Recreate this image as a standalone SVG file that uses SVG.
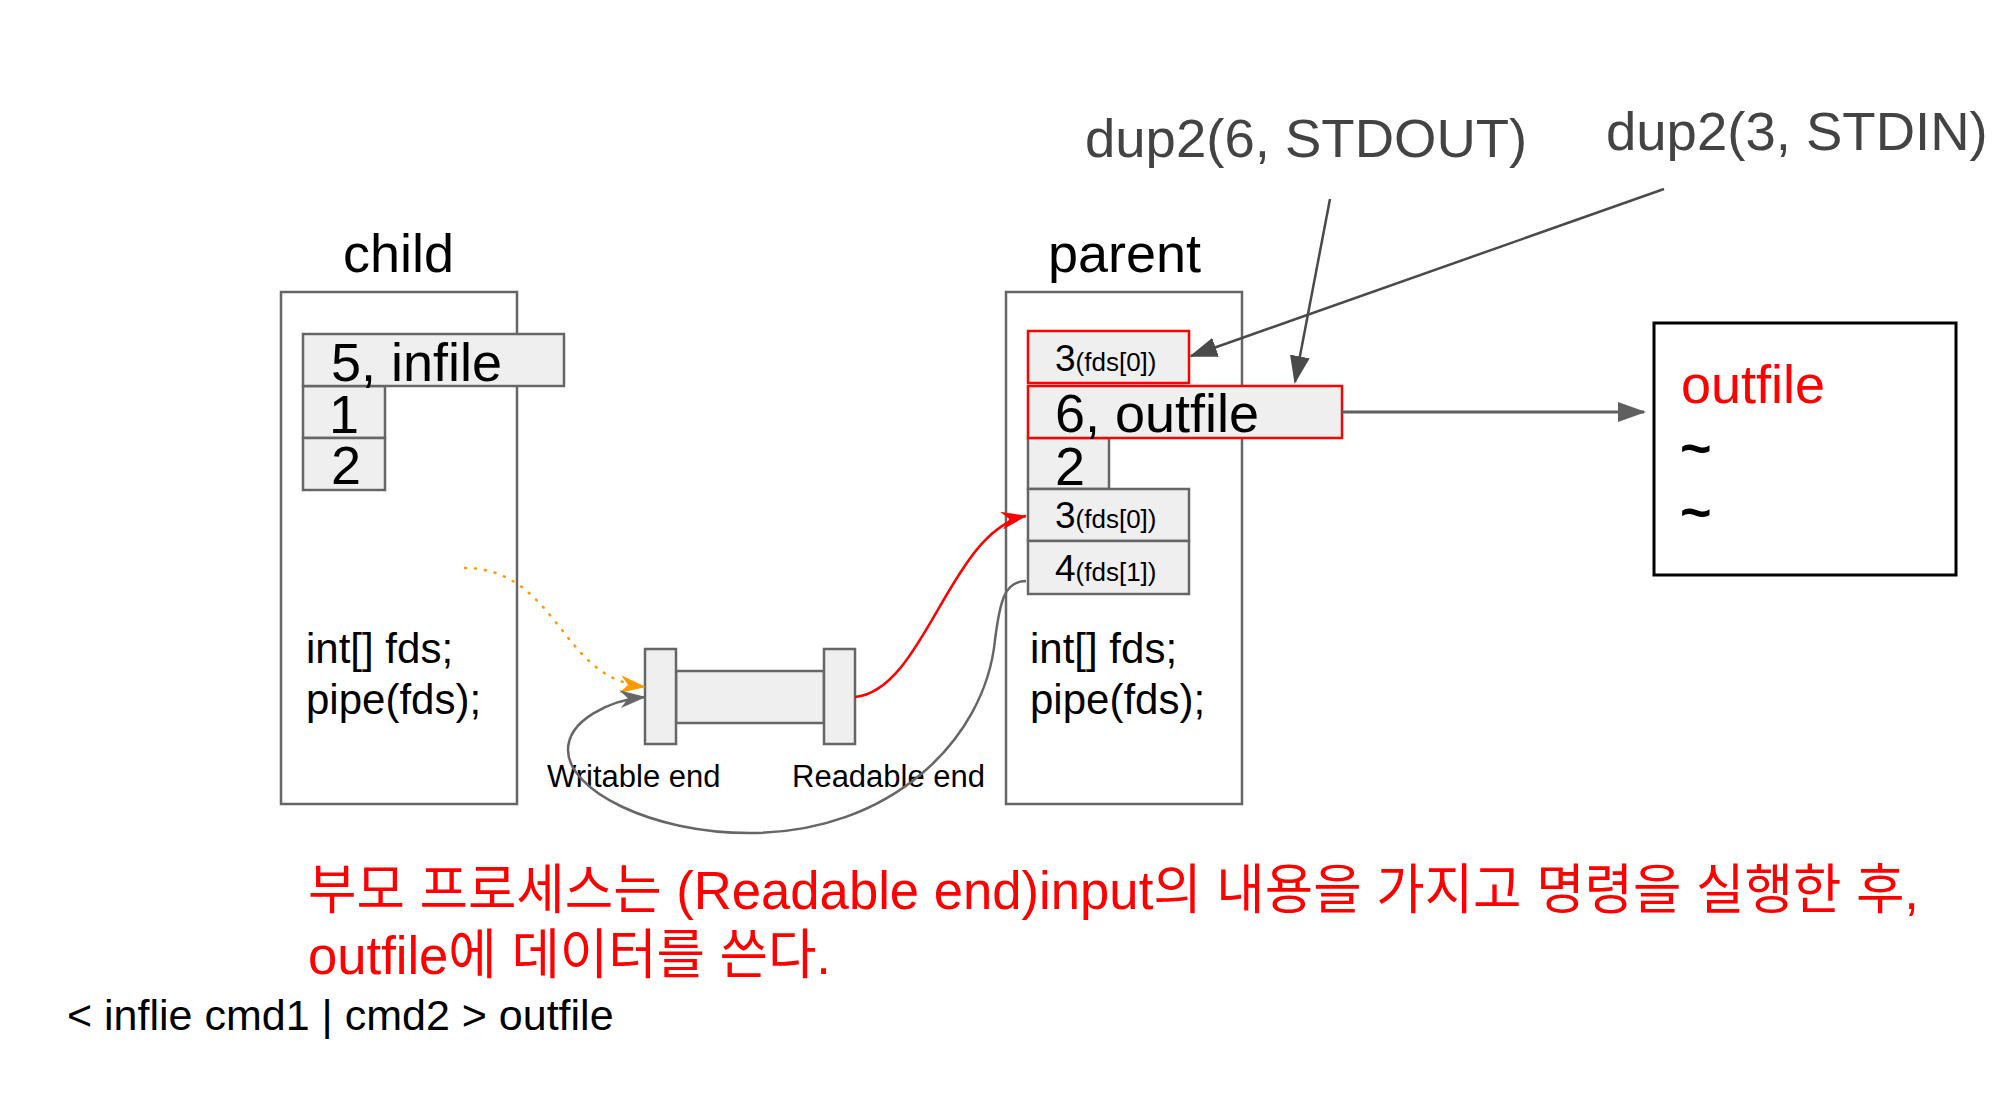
<svg xmlns="http://www.w3.org/2000/svg" width="2010" height="1108" viewBox="0 0 2010 1108">
<defs>
<style>
text{font-family:"Liberation Sans",Arial,"Noto Sans CJK KR",sans-serif;}
.box{fill:#ffffff;stroke:#666666;stroke-width:2.5;}
.cell{fill:#efefef;stroke:#666666;stroke-width:2.5;}
.rcell{fill:#efefef;stroke:#ff0000;stroke-width:2.5;}
.t54{font-size:54px;fill:#000;}
.t42{font-size:42px;fill:#000;}
.t43{font-size:43px;fill:#000;}
.t37{font-size:37px;fill:#000;}
.t26{font-size:26px;}
.t31{font-size:31px;fill:#000;}
.tl{font-size:54px;fill:#000;font-weight:bold;}
.dup{font-size:54.5px;fill:#434343;}
.red{fill:#ff0000;}
.kr{font-size:54px;fill:#ff0000;font-family:"Liberation Sans",Arial,"Noto Sans CJK KR",sans-serif;}
</style>
<marker id="tri" viewBox="0 0 28 20" refX="26" refY="10" markerWidth="28" markerHeight="20" markerUnits="userSpaceOnUse" orient="auto">
<path d="M0,0 L28,10 L0,20 z" fill="#4a4a4a"/>
</marker>
<marker id="tri2" viewBox="0 0 28 20" refX="26" refY="10" markerWidth="28" markerHeight="20" markerUnits="userSpaceOnUse" orient="auto">
<path d="M0,0 L28,10 L0,20 z" fill="#5f5f5f"/>
</marker>
<marker id="stO" viewBox="0 0 26 18" refX="25" refY="9" markerWidth="26" markerHeight="18" markerUnits="userSpaceOnUse" orient="auto">
<path d="M0,0 L26,9 L0,18 L8,9 z" fill="#ff9900"/>
</marker>
<marker id="stR" viewBox="0 0 26 18" refX="25" refY="9" markerWidth="26" markerHeight="18" markerUnits="userSpaceOnUse" orient="auto">
<path d="M0,0 L26,9 L0,18 L8,9 z" fill="#ff0000"/>
</marker>
<marker id="stG" viewBox="0 0 26 18" refX="25" refY="9" markerWidth="26" markerHeight="18" markerUnits="userSpaceOnUse" orient="auto">
<path d="M0,0 L26,9 L0,18 L8,9 z" fill="#666666"/>
</marker>
</defs>
<rect width="2010" height="1108" fill="#ffffff"/>

<g id="child">
<text class="t54" x="343" y="272">child</text>
<rect class="box" x="281" y="292" width="236" height="512"/>
<rect class="cell" x="303" y="386" width="82" height="52"/>
<rect class="cell" x="303" y="438" width="82" height="52"/>
<rect class="cell" x="303" y="334" width="261" height="52"/>
<text class="t54" x="331" y="381">5, infile</text>
<text class="t54" x="329" y="433">1</text>
<text class="t54" x="331" y="484">2</text>
<text class="t42" x="306" y="663">int[] fds;</text>
<text class="t42" x="306" y="714">pipe(fds);</text>
</g>

<g id="pipe">
<rect class="cell" x="676" y="671" width="148" height="52"/>
<rect class="cell" x="645" y="649" width="31" height="95"/>
<rect class="cell" x="824" y="649" width="31" height="95"/>
<text class="t31" x="547" y="787">Writable end</text>
<text class="t31" x="792" y="787">Readable end</text>
</g>

<g id="parent">
<text class="t54" x="1048" y="272">parent</text>
<rect class="box" x="1006" y="292" width="236" height="512"/>
<rect class="cell" x="1028" y="438" width="81" height="51"/>
<rect class="cell" x="1028" y="489" width="161" height="52"/>
<rect class="cell" x="1028" y="541" width="161" height="53"/>
<rect class="rcell" x="1028" y="331" width="161" height="52"/>
<rect class="rcell" x="1028" y="386" width="314" height="52"/>
<text class="t37" x="1055" y="371">3<tspan class="t26">(fds[0])</tspan></text>
<text class="t54" x="1055" y="432">6, outfile</text>
<text class="t54" x="1055" y="485">2</text>
<text class="t37" x="1055" y="528">3<tspan class="t26">(fds[0])</tspan></text>
<text class="t37" x="1055" y="581">4<tspan class="t26">(fds[1])</tspan></text>
<text class="t42" x="1030" y="663">int[] fds;</text>
<text class="t42" x="1030" y="714">pipe(fds);</text>
</g>

<g id="outfile">
<rect x="1654" y="323" width="302" height="252" fill="#ffffff" stroke="#000000" stroke-width="3"/>
<text class="t54 red" x="1681" y="403">outfile</text>
<text class="tl" x="1680" y="467">~</text>
<text class="tl" x="1680" y="531">~</text>
</g>

<g id="labels">
<text class="dup" x="1085" y="157">dup2(6, STDOUT)</text>
<text class="dup" x="1606" y="150">dup2(3, STDIN)</text>
</g>

<g id="connectors" fill="none">
<path d="M465,568 C520,568 545,610 570,640 C590,665 610,683 645,687" stroke="#ff9900" stroke-width="2.5" stroke-dasharray="1,9" stroke-linecap="round" marker-end="url(#stO)"/>
<path d="M855,697 C925,690 950,530 1026,516" stroke="#ff0000" stroke-width="2.5" marker-end="url(#stR)"/>
<path d="M1026,581 C1005,581 1000,600 995,640 C985,740 890,833 750,833 C650,833 568,790 568,750 C568,720 610,700 645,697" stroke="#666666" stroke-width="2.5" marker-end="url(#stG)"/>
<line x1="1330" y1="199" x2="1295" y2="382" stroke="#4a4a4a" stroke-width="2.5" marker-end="url(#tri)"/>
<line x1="1664" y1="189" x2="1191" y2="356" stroke="#4a4a4a" stroke-width="2.5" marker-end="url(#tri)"/>
<line x1="1342" y1="412" x2="1644" y2="412" stroke="#5f5f5f" stroke-width="3" marker-end="url(#tri2)"/>
</g>

<g id="notes">
<text class="kr" x="308" y="909" textLength="1611" lengthAdjust="spacingAndGlyphs">부모 프로세스는 (Readable end)input의 내용을 가지고 명령을 실행한 후,</text>
<text class="kr" x="308" y="974" textLength="523" lengthAdjust="spacingAndGlyphs">outfile에 데이터를 쓴다.</text>
<text class="t43" x="67" y="1030">&lt; inflie cmd1 | cmd2 &gt; outfile</text>
</g>
</svg>
